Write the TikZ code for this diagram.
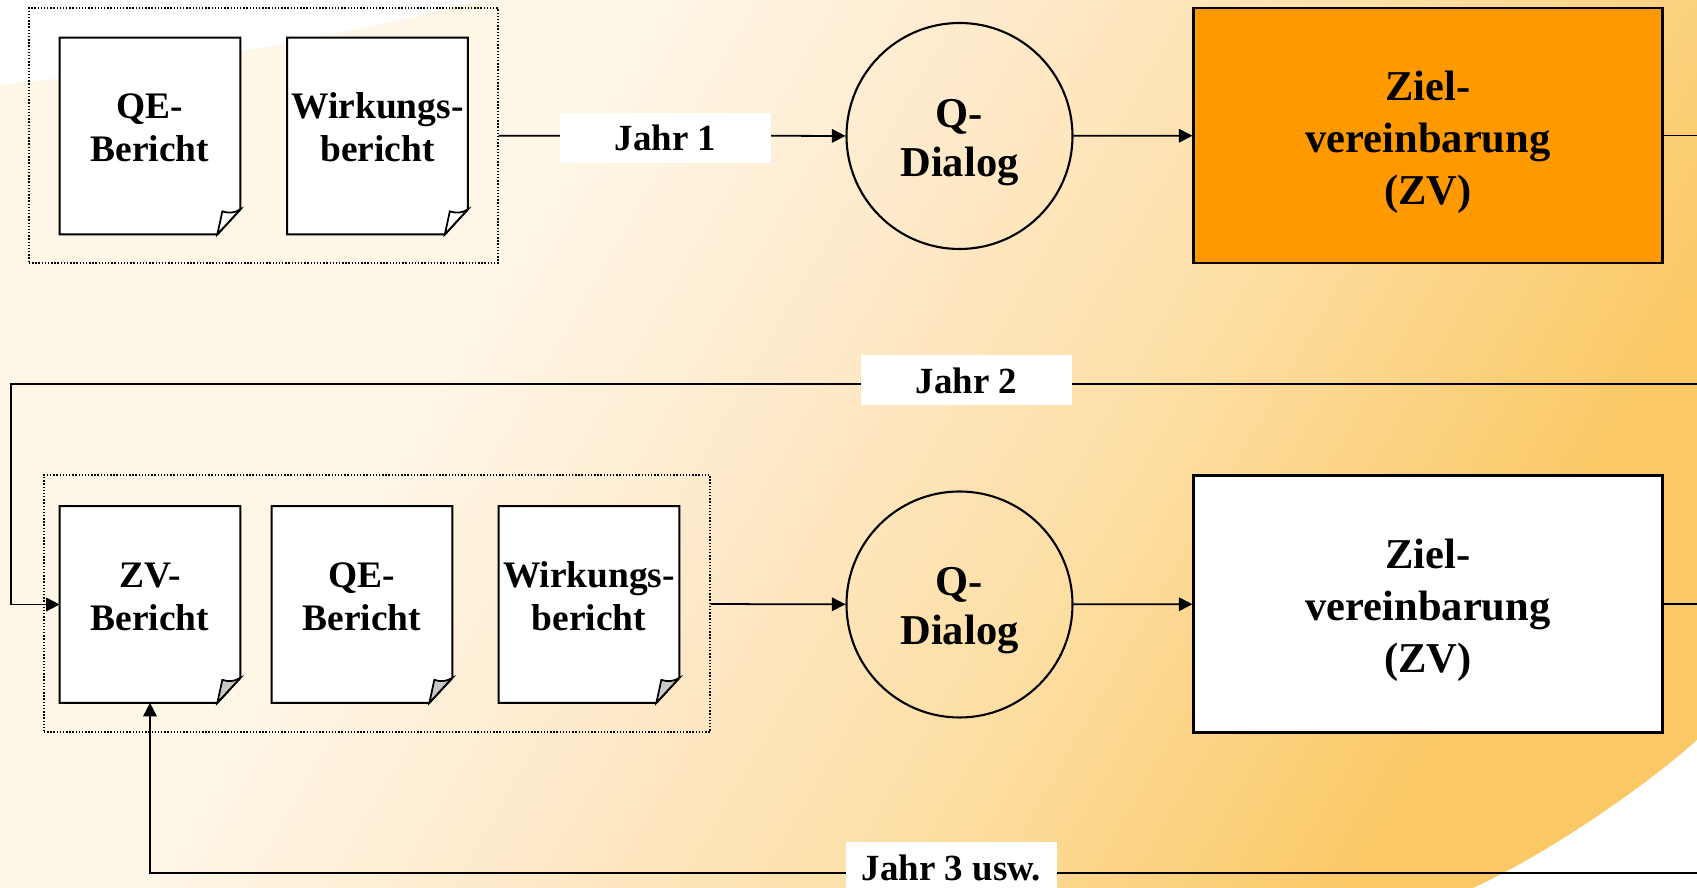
\documentclass[tikz,border=0pt]{standalone}
\usepackage{fontspec}
\setmainfont{Liberation Serif}
\usepackage{xcolor}
\usepackage{tikz}
\usetikzlibrary{arrows.meta}

\definecolor{hellcreme}{HTML}{FEF6E7}
\definecolor{creme}{HTML}{FEEACB}
\definecolor{mittelgelb}{HTML}{FDDFA5}
\definecolor{dunkelgelb}{HTML}{FAC864}
\definecolor{zvorange}{HTML}{FF9900}
\definecolor{knickgrau}{HTML}{C8C8C8}
\pgfdeclarehorizontalshading{hintergrund}{100bp}{color(0bp)=(hellcreme); color(36bp)=(hellcreme); color(47bp)=(creme); color(59bp)=(mittelgelb); color(74bp)=(dunkelgelb); color(100bp)=(dunkelgelb)}

\tikzset{
    dokbox/.style={minimum width=3.6cm, minimum height=3.92cm, inner sep=0pt},
    doktext/.style={font=\fontsize{21.3}{24.6}\selectfont\bfseries, inner sep=0pt},
    gruppe/.style={draw, densely dotted, line width=0.8pt, inner sep=0pt},
    dialog/.style={circle, draw, line width=1.2pt, minimum size=4.52cm, inner sep=0pt},
    zvbox/.style={draw, line width=1.2pt, minimum width=9.38cm, minimum height=5.1cm, inner sep=0pt},
    grosstext/.style={inner sep=0pt, font=\fontsize{24.2}{29.6}\selectfont\bfseries},
    jahr/.style={fill=white, minimum width=4.22cm, minimum height=1cm, inner sep=0pt, font=\fontsize{21}{25}\selectfont\bfseries},
    verbindung/.style={line width=1pt}
}

% Dokument mit Eselsohr: Name, Position, Text, Farbe des Knicks
\newcommand{\dokument}[4]{%
    \node[dokbox] (#1) at (#2) {};
    \filldraw[fill=white, line width=1.2pt] (#1.north west) -- (#1.north east) -- ([yshift=0.5cm]#1.south east) -- ([xshift=-0.46cm]#1.south east) -- (#1.south west) -- cycle;
    \filldraw[fill=#4, line width=1pt] ([xshift=-0.46cm]#1.south east) -- ([xshift=-0.36cm, yshift=0.46cm]#1.south east) to[bend right=25] ([yshift=0.5cm]#1.south east) -- cycle;
    \node[doktext] (#1-text) at ([yshift=0.09cm]#1.center) {#3};
}

\begin{document}
\begin{tikzpicture}[>={Triangle[length=0.27cm, width=0.27cm]}]
    % Hintergrund
    \shade[shading=hintergrund, shading angle=-30] (0,0) rectangle (33.94,17.76);
    \fill[white] (0,17.76) -- (0,16.06) .. controls (3,16.35) and (7,17.05) .. (9.6,17.76) -- cycle;
    \fill[white] (33.94,0) -- (33.94,2.96) .. controls (33.0,2.1) and (31.0,0.7) .. (29.46,0) -- cycle;
    \useasboundingbox (0,0) rectangle (33.94,17.76);

    % Jahr 1
    \node[gruppe, minimum width=9.38cm, minimum height=5.1cm] (gruppe1) at (5.27,15.05) {};
    \dokument{qe1}{3.0,15.04}{\begin{tabular}{c}QE-\\ Bericht\end{tabular}}{white}
    \dokument{wirkung1}{7.55,15.04}{\begin{tabular}{c}Wirkungs-\\ bericht\end{tabular}}{white}
    \node[dialog] (dialog1) at (19.19,15.04) {};
    \node[grosstext, font=\fontsize{24.2}{27.9}\selectfont\bfseries] (dialog1-text) at ([yshift=-0.12cm]dialog1.center) {\begin{tabular}{c}Q-\\ Dialog\end{tabular}};
    \node[zvbox, fill=zvorange] (ziel1) at (28.56,15.05) {};
    \node[grosstext] (ziel1-text) at ([yshift=-0.13cm]ziel1.center) {\begin{tabular}{c}Ziel-\\ vereinbarung\\ (ZV)\end{tabular}};
    \coordinate (rechts1) at (33.94,15.05);

    \draw[verbindung, ->] (gruppe1) -- (dialog1);
    \draw[verbindung, ->] (dialog1) -- (ziel1);
    \draw[verbindung] (ziel1) -- (rechts1);
    \node[jahr] (jahr1) at (13.31,15.0) {Jahr 1};

    % Jahr 2
    \node[gruppe, minimum width=13.32cm, minimum height=5.14cm] (gruppe2) at (7.54,5.69) {};
    \dokument{zvbericht2}{3.0,5.67}{\begin{tabular}{c}ZV-\\ Bericht\end{tabular}}{knickgrau}
    \dokument{qe2}{7.24,5.67}{\begin{tabular}{c}QE-\\ Bericht\end{tabular}}{knickgrau}
    \dokument{wirkung2}{11.78,5.67}{\begin{tabular}{c}Wirkungs-\\ bericht\end{tabular}}{knickgrau}
    \node[dialog] (dialog2) at (19.19,5.67) {};
    \node[grosstext, font=\fontsize{24.2}{27.9}\selectfont\bfseries] (dialog2-text) at ([yshift=-0.12cm]dialog2.center) {\begin{tabular}{c}Q-\\ Dialog\end{tabular}};
    \node[zvbox, fill=white, minimum height=5.14cm] (ziel2) at (28.56,5.68) {};
    \node[grosstext] (ziel2-text) at ([yshift=-0.13cm]ziel2.center) {\begin{tabular}{c}Ziel-\\ vereinbarung\\ (ZV)\end{tabular}};
    \coordinate (rechts2) at (33.94,10.08);
    \coordinate (links2) at (0.22,10.08);

    \draw[verbindung, ->] (rechts2) -- (links2) |- (zvbericht2.west);
    \draw[verbindung, ->] (gruppe2) -- (dialog2);
    \draw[verbindung, ->] (dialog2) -- (ziel2);
    \draw[verbindung] (ziel2) -- (ziel2 -| rechts1);
    \node[jahr] (jahr2) at (19.33,10.15) {Jahr 2};

    % Jahr 3
    \coordinate (rechts3) at (33.94,0.3);
    \draw[verbindung, ->] (rechts3) -| (zvbericht2.south);
    \node[jahr, minimum height=1.04cm] (jahr3) at (19.03,0.4) {Jahr 3 usw.};

\end{tikzpicture}
\end{document}
